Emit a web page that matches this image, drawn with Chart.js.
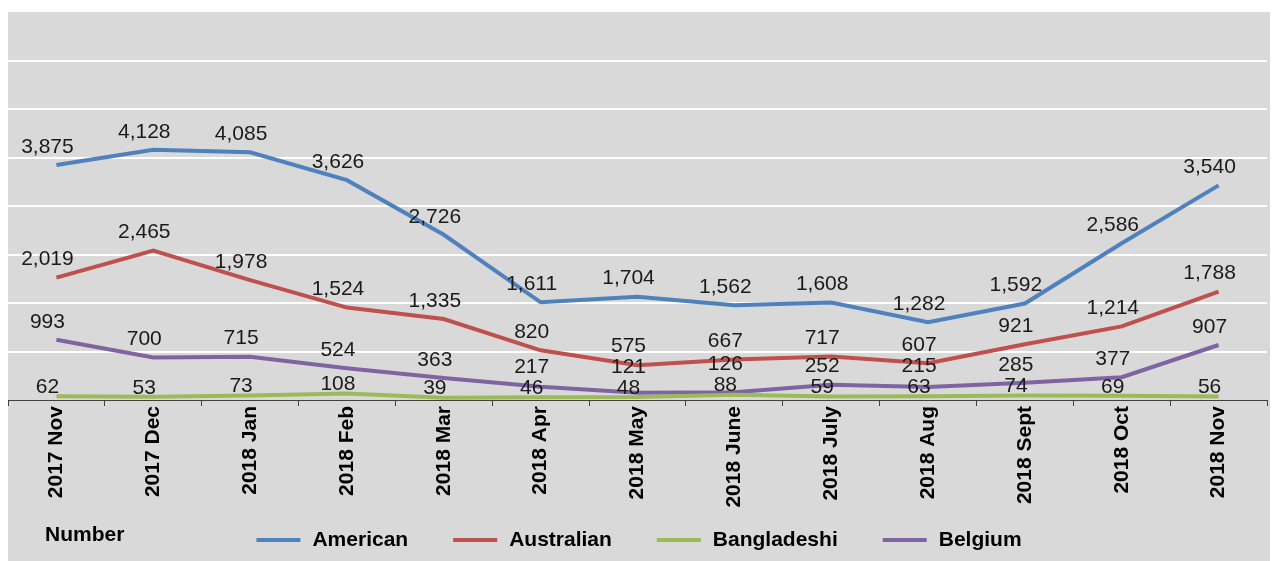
<!DOCTYPE html>
<html>
<head>
<meta charset="utf-8">
<script src="https://cdn.jsdelivr.net/npm/chart.js@4"></script>
<style>
  html, body { margin: 0; padding: 0; background: #fff; }
  #wrap { position: absolute; left: 8px; top: 12px; width: 1262px; height: 549px; background: #d9d9d9; }
</style>
</head>
<body>
<div id="wrap"><canvas id="lineChart" width="1262" height="549"></canvas></div>
<script>
const categories = ['2017 Nov', '2017 Dec', '2018 Jan', '2018 Feb', '2018 Mar', '2018 Apr', '2018 May',
  '2018 June', '2018 July', '2018 Aug', '2018 Sept', '2018 Oct', '2018 Nov'];
const american    = [3875, 4128, 4085, 3626, 2726, 1611, 1704, 1562, 1608, 1282, 1592, 2586, 3540];
const australian  = [2019, 2465, 1978, 1524, 1335, 820, 575, 667, 717, 607, 921, 1214, 1788];
const bangladeshi = [62, 53, 73, 108, 39, 46, 48, 88, 59, 63, 74, 69, 56];
const belgium     = [993, 700, 715, 524, 363, 217, 121, 126, 252, 215, 285, 377, 907];
const yMax = 6400;
const yStep = 800;

const FONT = '"Liberation Sans", Arial, sans-serif';

// value labels above each point, pushed apart when they collide
const pointLabels = {
  id: 'pointLabels',
  afterDatasetsDraw(chart) {
    const ctx = chart.ctx;
    ctx.save();
    ctx.font = '21px ' + FONT;
    ctx.fillStyle = '#1a1a1a';
    ctx.textAlign = 'center';
    ctx.textBaseline = 'middle';
    for (let i = 0; i < chart.data.labels.length; i++) {
      const items = chart.data.datasets.map((ds, d) => {
        const pt = chart.getDatasetMeta(d).data[i];
        return { x: pt.x - 9, y: pt.y - ds.labelLift, text: ds.data[i].toLocaleString('en-US') };
      });
      items.sort((a, b) => b.y - a.y);
      for (let k = 1; k < items.length; k++) {
        if (items[k - 1].y - items[k].y < 21) items[k].y = items[k - 1].y - 21;
      }
      items.forEach(it => ctx.fillText(it.text, it.x, it.y));
    }
    ctx.restore();
  }
};

// legend row at the bottom with the "Number" caption
const bottomLegend = {
  id: 'bottomLegend',
  afterDraw(chart) {
    const ctx = chart.ctx;
    ctx.save();
    ctx.font = 'bold 21px ' + FONT;
    ctx.fillStyle = '#000';
    ctx.textBaseline = 'middle';
    ctx.textAlign = 'left';
    ctx.fillText('Number', 37, 523);
    const lineW = 44, gap = 12, pad = 45;
    const sets = chart.data.datasets;
    let total = 0;
    sets.forEach((ds, i) => {
      total += lineW + gap + ctx.measureText(ds.label).width + (i < sets.length - 1 ? pad : 0);
    });
    let x = (chart.width - total) / 2;
    const y = 528;
    sets.forEach(ds => {
      ctx.strokeStyle = ds.borderColor;
      ctx.lineWidth = 4;
      ctx.beginPath();
      ctx.moveTo(x, y);
      ctx.lineTo(x + lineW, y);
      ctx.stroke();
      x += lineW + gap;
      ctx.fillText(ds.label, x, y);
      x += ctx.measureText(ds.label).width + pad;
    });
    ctx.restore();
  }
};

const series = (label, data, color, lift) => ({
  label, data, labelLift: lift,
  borderColor: color, backgroundColor: color,
  borderWidth: 4, pointRadius: 0, tension: 0, fill: false
});

const chart = new Chart(document.getElementById('lineChart').getContext('2d'), {
  type: 'line',
  data: {
    labels: categories,
    datasets: [
      series('American', american, '#4f81bd', 18),
      series('Australian', australian, '#c0504d', 18),
      series('Bangladeshi', bangladeshi, '#9bbb59', 9),
      series('Belgium', belgium, '#8064a2', 18)
    ]
  },
  options: {
    responsive: false,
    animation: false,
    devicePixelRatio: 1,
    layout: { padding: { left: 0, right: 3, top: 0, bottom: 0 } },
    plugins: { legend: { display: false }, tooltip: { enabled: false } },
    scales: {
      x: {
        offset: true,
        grid: { drawOnChartArea: false, tickLength: 6, color: '#404040', offset: true },
        border: { color: '#404040', width: 1 },
        ticks: { maxRotation: 90, minRotation: 90, autoSkip: false, padding: 0, color: '#000',
          font: { family: FONT, size: 21, weight: 'bold' } },
        afterFit: s => { s.height = 161; }
      },
      y: {
        min: 0, max: yMax,
        ticks: { stepSize: yStep, display: false },
        grid: {
          drawTicks: false, lineWidth: 2,
          color: c => (c.tick.value === 0 || c.tick.value === yMax) ? 'rgba(0,0,0,0)' : '#ffffff'
        },
        border: { display: false },
        afterFit: s => { s.width = 0; }
      }
    }
  },
  plugins: [pointLabels, bottomLegend]
});
</script>
</body>
</html>
